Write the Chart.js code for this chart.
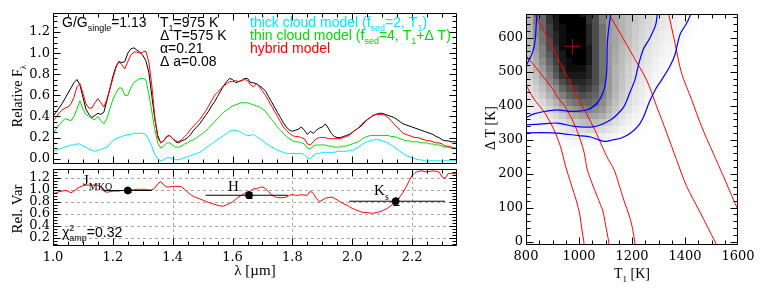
<!DOCTYPE html>
<html><head><meta charset="utf-8">
<script src="https://cdn.jsdelivr.net/npm/chart.js@4.4.1/dist/chart.umd.min.js"></script>
<style>
html,body{margin:0;padding:0;background:#fff;}
body{width:761px;height:289px;position:relative;overflow:hidden}
canvas{position:absolute;display:block}
</style></head><body>
<canvas id="cTop" width="470" height="166" style="left:0;top:0;width:470px;height:166px"></canvas>
<canvas id="cBot" width="470" height="125" style="left:0;top:164px;width:470px;height:125px"></canvas>
<canvas id="cMap" width="291" height="289" style="left:470px;top:0;width:291px;height:289px"></canvas>
<script>
// ---------------- DATA ----------------
const lam = [1.00,1.01,1.02,1.03,1.04,1.05,1.06,1.07,1.08,1.09,1.10,1.11,1.12,1.13,1.14,1.15,1.16,1.17,1.18,1.19,
1.20,1.21,1.22,1.23,1.24,1.25,1.26,1.27,1.28,1.29,1.30,1.31,1.32,1.33,1.34,1.35,1.36,1.37,1.38,1.39,
1.40,1.41,1.42,1.43,1.44,1.45,1.46,1.47,1.48,1.49,1.50,1.51,1.52,1.53,1.54,1.55,1.56,1.57,1.58,1.59,
1.60,1.61,1.62,1.63,1.64,1.65,1.66,1.67,1.68,1.69,1.70,1.71,1.72,1.73,1.74,1.75,1.76,1.77,1.78,1.79,
1.80,1.81,1.82,1.83,1.84,1.85,1.86,1.87,1.88,1.89,1.90,1.91,1.92,1.93,1.94,1.95,1.96,1.97,1.98,1.99,
2.00,2.01,2.02,2.03,2.04,2.05,2.06,2.07,2.08,2.09,2.10,2.11,2.12,2.13,2.14,2.15,2.16,2.17,2.18,2.19,
2.20,2.21,2.22,2.23,2.24,2.25,2.26,2.27,2.28,2.29,2.30,2.31,2.32,2.33,2.34,2.35];

const observed = [.40,.44,.48,.52,.57,.62,.67,.72,.75,.70, .58,.47,.42,.39,.41,.43,.42,.44,.55,.66,
.78,.87,.92,.91,.92,1.00,1.04,1.05,1.03,1.01, .98,.93,.82,.60,.38,.22,.15,.17,.21,.22,
.19,.16,.15,.17,.18,.20,.23,.27,.30,.33, .37,.41,.45,.50,.54,.59,.64,.69,.73,.76,
.75,.72,.73,.74,.76,.76,.72,.72,.71,.69, .67,.64,.59,.54,.49,.44,.39,.34,.30,.27,
.26,.27,.28,.30,.27,.23,.26,.24,.27,.29, .30,.33,.29,.24,.21,.20,.20,.21,.22,.23,
.25,.27,.29,.31,.34,.37,.39,.41,.42,.43, .43,.42,.41,.40,.39,.37,.35,.33,.32,.31,
.30,.29,.28,.27,.26,.25,.24,.23,.21,.20, .18,.17,.17,.16,.16,.16];

const hybrid = [.36,.39,.43,.46,.48,.49,.52,.58,.68,.71, .62,.52,.48,.48,.53,.57,.53,.49,.56,.66,
.76,.86,.92,.89,.85,.92,.98,1.01,1.01,1.00, 1.01,1.02,.92,.70,.40,.20,.15,.17,.21,.22,
.19,.17,.16,.18,.21,.24,.28,.31,.34,.37, .41,.45,.50,.55,.60,.63,.66,.69,.71,.73,
.73,.74,.73,.74,.75,.74,.70,.68,.71,.68, .64,.60,.55,.50,.45,.40,.35,.30,.27,.24,
.22,.21,.21,.20,.19,.14,.13,.16,.19,.20, .20,.20,.19,.19,.19,.19,.19,.20,.21,.22,
.25,.27,.29,.32,.35,.37,.39,.41,.42,.42, .42,.41,.39,.36,.33,.30,.27,.24,.23,.22,
.21,.20,.20,.19,.18,.17,.17,.16,.15,.15, .14,.12,.12,.11,.10,.10];

const thinCloud = [.24,.28,.32,.35,.38,.37,.36,.40,.47,.55, .47,.42,.40,.38,.37,.40,.36,.33,.38,.47,
.56,.62,.67,.67,.60,.60,.67,.72,.74,.76, .76,.75,.62,.45,.28,.15,.10,.12,.15,.15,
.13,.11,.11,.12,.14,.15,.17,.18,.20,.22, .24,.26,.29,.32,.35,.38,.41,.44,.46,.48,
.50,.51,.52,.53,.53,.53,.52,.51,.50,.49, .47,.45,.41,.37,.34,.30,.27,.24,.21,.19,
.17,.16,.16,.15,.14,.10,.09,.12,.13,.13, .13,.13,.12,.12,.11,.11,.11,.12,.12,.13,
.14,.15,.16,.18,.20,.21,.22,.22,.22,.22, .22,.22,.22,.21,.21,.20,.19,.18,.17,.17,
.16,.16,.16,.15,.15,.15,.14,.14,.13,.13, .12,.11,.11,.10,.10,.10];

const thickCloud = [.07,.08,.09,.10,.11,.12,.13,.13,.14,.14, .12,.11,.09,.08,.07,.08,.09,.10,.11,.14,
.17,.19,.20,.21,.22,.23,.23,.24,.24,.24, .24,.23,.18,.12,.04,.00,-.02,-.01,.01,.01,
.00,-.01,-.01,.00,.01,.02,.03,.04,.05,.06, .08,.10,.12,.14,.16,.18,.20,.22,.24,.26,
.27,.27,.26,.25,.23,.22,.22,.23,.21,.19, .17,.15,.13,.11,.10,.08,.07,.06,.05,.05,
.05,.05,.05,.05,.04,.01,.00,.03,.05,.05, .06,.06,.06,.06,.06,.07,.07,.07,.07,.08,
.08,.09,.11,.13,.15,.16,.17,.18,.18,.18, .17,.16,.15,.13,.11,.09,.07,.05,.03,.02,
.01,.00,-.01,-.01,-.02,-.02,-.02,-.02,-.02,-.02, -.02,-.02,-.02,-.02,-.02,-.02];

const relVar = [.94,.95,.97,.98,.99,.98,.95,.98,1.02,1.05, 1.07,1.08,1.08,1.08,1.08,1.08,1.04,.98,.96,.97,
.98,.98,.98,.99,.99,.99,1.00,1.00,1.01,1.01, 1.01,1.01,1.00,1.00,1.03,1.10,1.14,1.08,1.05,1.05,
1.06,1.06,1.06,1.05,1.01,.96,.92,.89,.87,.85, .83,.81,.79,.77,.76,.74,.73,.73,.75,.77,
.80,.84,.88,.91,.94,.97,.98,1.02,1.02,1.04, 1.05,1.02,.97,.92,.89,.87,.87,.87,.88,.91,
.92,.91,.91,.92,.91,.91,.98,.94,.86,.80, .83,.86,.87,.88,.86,.83,.80,.77,.75,.72,
.69,.67,.65,.63,.62,.62,.61,.61,.62,.63, .65,.67,.70,.74,.78,.83,.89,.96,1.05,1.15,
1.24,1.29,1.31,1.32,1.31,1.30,1.31,1.32,1.31,1.30, 1.22,1.19,1.27,1.28,1.27,1.27];

// photometric bands
const bandNames = ['J','H','K'];
const bandCenter = [1.25, 1.655, 2.145];
const bandLo = [1.17, 1.51, 1.99];
const bandHi = [1.33, 1.785, 2.31];
const bandVal = [0.99, 0.91, 0.81];
const bandErr = [0.02, 0.05, 0.06];

// tick labels
const specXTicks = [1.0,1.2,1.4,1.6,1.8,2.0,2.2];
const specYTicks = [0.0,0.2,0.4,0.6,0.8,1.0,1.2];
const varYTicks = [0.2,0.4,0.6,0.8,1.0,1.2];
const varGridX = [1.4,1.8,2.2];
const mapXTicks = [800,1000,1200,1400,1600];
const mapYTicks = [0,100,200,300,400,500,600];

// chi^2 map (grey level 0..10), columns T1, rows Delta T (cell = 25 K x 20 K)
const heatT1 = [800,825,850,875,900,925,950,975,1000,1025,1050,1075,1100,1125,1150,1175,1200,1225,1250,1275,1300,1325,1350,1375,1400,1425];
const heatDT = [660,640,620,600,580,560,540,520,500,480,460,440,420,400,380,360,340,320,300,280];
const heatZ = [
[3,5,6,8,9,10,10,10,9,8,7,5,4,3.5,3,2.5,2.2,1.8,1.5,1.2,1,0.8,0.6,0.4,0.3,0.2],
[3,5,6,8,9,10,10,10,10,8,7,5,4,3.5,3,2.5,2.2,1.8,1.5,1.2,1,0.8,0.6,0.4,0.3,0.2],
[3,4.5,6,7.5,9,9.5,10,10,10,8.5,7,5.5,4,3.5,3,2.5,2,1.7,1.4,1.1,0.9,0.7,0.5,0.3,0.2,0.1],
[2.8,4.5,5.5,7.5,8.5,9.5,10,10,10,8.5,7,5.5,4,3.5,3,2.5,2,1.6,1.3,1,0.8,0.6,0.4,0.3,0.1,0],
[2.7,4,5.5,7,8.5,9.5,10,10,10,8.5,7,5.5,4,3.5,3,2.4,1.9,1.5,1.2,0.9,0.7,0.5,0.3,0.2,0.1,0],
[2.6,4,5,7,8,9.5,10,10,10,9,7,5.5,4,3.5,2.8,2.3,1.8,1.4,1.1,0.8,0.6,0.4,0.2,0.1,0,0],
[2.5,3.5,5,6.5,8,9,10,10,10,9,7,5.5,4,3.3,2.7,2.2,1.7,1.3,1,0.7,0.5,0.3,0.2,0.1,0,0],
[2.3,3.3,4.5,6,7.5,9,9.5,10,10,9,7,5.5,4,3.2,2.6,2,1.6,1.2,0.9,0.6,0.4,0.2,0.1,0,0,0],
[2,3,4,5.5,7,8.5,9.5,9.5,9.5,8.5,7,5.5,4,3,2.5,1.9,1.5,1.1,0.8,0.5,0.3,0.2,0.1,0,0,0],
[1.8,2.5,3.5,5,6.5,8,9,9,9,8.5,7,5.5,4,3,2.4,1.8,1.3,1,0.7,0.4,0.2,0.1,0,0,0,0],
[1.5,2.2,3,4.5,5.5,7,8,8.5,8.5,8,7,5.5,4,3,2.3,1.7,1.2,0.9,0.6,0.3,0.2,0.1,0,0,0,0],
[1.3,1.8,2.5,3.5,4.5,6,7,7.5,8,7.5,6.5,5,4,3,2.2,1.6,1.1,0.8,0.5,0.3,0.1,0,0,0,0,0],
[1,1.5,2,3,4,5,6,6.5,7,6.5,6,5,3.8,2.8,2,1.5,1,0.7,0.4,0.2,0.1,0,0,0,0,0],
[0.8,1,1.5,2.2,3,4,5,5.5,6,6,5.5,4.5,3.5,2.5,1.8,1.3,0.9,0.6,0.3,0.2,0,0,0,0,0,0],
[0.6,0.8,1.1,1.6,2.2,3,3.8,4.3,4.8,5,4.5,4,3,2.2,1.5,1.1,0.7,0.4,0.2,0.1,0,0,0,0,0,0],
[0.4,0.6,0.8,1.1,1.5,2,2.7,3.2,3.6,3.8,3.6,3.2,2.5,1.8,1.2,0.8,0.5,0.3,0.1,0,0,0,0,0,0,0],
[0.3,0.4,0.5,0.7,1,1.3,1.8,2.2,2.5,2.7,2.6,2.3,1.8,1.3,0.9,0.6,0.3,0.2,0.1,0,0,0,0,0,0,0],
[0.2,0.2,0.3,0.4,0.6,0.8,1.1,1.3,1.5,1.6,1.6,1.4,1.1,0.8,0.5,0.3,0.2,0.1,0,0,0,0,0,0,0,0],
[0.1,0.1,0.2,0.2,0.3,0.4,0.5,0.6,0.7,0.8,0.8,0.7,0.5,0.4,0.2,0.1,0.1,0,0,0,0,0,0,0,0,0],
[0,0,0.1,0.1,0.1,0.2,0.2,0.3,0.3,0.3,0.3,0.3,0.2,0.1,0.1,0,0,0,0,0,0,0,0,0,0,0]];

// best fit
const bestT1 = [975];
const bestDT = [575];

// confidence contours (T1, Delta T)
const contourInnerA_T1 = [842,838,834,826,815,800,790];
const contourInnerA_DT = [680,630,590,560,540,518,505];
const contourInnerB_T1 = [790,800,830,868,917,950,981,1031,1069,1094,1104,1107,1113,1122];
const contourInnerB_DT = [362,365,376,383,388,385,383,388,408,447,496,584,633,680];
const contourMid_T1 = [790,805,853,918,981,1053,1082,1120,1145,1170,1190,1211,1223,1242,1268,1290,1296];
const contourMid_DT = [342,344,346,349,339,338,344,359,375,398,435,476,515,565,600,640,680];
const contourOut_T1 = [790,805,900,1000,1044,1094,1125,1160,1195,1225,1245,1265,1290,1312,1343,1362,1381,1407,1428];
const contourOut_DT = [318,320,320,312,308,295,299,305,320,342,370,410,450,476,516,550,609,644,680];

// model-relation curves (T1, Delta T)
const relA_T1 = [826,830,888,943,1000,1057,1079,1105,1132,1150,1170,1190,1203,1210,1213];
const relA_DT = [680,673,590,504,418,333,295,250,212,170,120,75,35,0,-15];
const relB_T1 = [1100,1111,1155,1205,1255,1293,1331,1368,1406,1457,1513,1520];
const relB_DT = [690,673,614,545,476,398,320,241,163,86,0,-12];
const relC_T1 = [1330,1337,1362,1387,1425,1462,1506,1545,1583,1610];
const relC_DT = [690,673,585,496,418,340,261,192,123,75];
const relD_T1 = [795,800,850,900,925,945,980,1005,1020,1031,1050,1070,1090,1100,1112,1114];
const relD_DT = [553,548,500,450,418,400,350,300,260,212,170,130,90,50,0,-15];
const relE_T1 = [795,800,830,870,905,930,950,970,990,1003,1010,1018,1020];
const relE_DT = [465,460,420,380,330,280,220,170,120,80,40,0,-15];

// ---------------- helpers ----------------
const SERIF = '"Liberation Serif", "Times New Roman", serif';
const DSERIF = '"DejaVu Serif", serif';
const SANS = '"Liberation Sans", Arial, sans-serif';
const COL = {black:'#000000', red:'#ff0000', green:'#00dd00', cyan:'#00e8ff', blue:'#0000ff', dark:'#b00000'};

function pts(xs, ys){ return xs.map((x,i)=>({x:x, y:ys[i]})); }
function seq(a,b,s){ const r=[]; for(let v=a; v<=b+1e-9; v+=s) r.push(+v.toFixed(6)); return r; }

// parts: [text, mode(0 normal,1 sub,2 sup), noAdvance]
function rich(ctx, x, y, parts, size, fam, color, align, rot){
  ctx.save();
  ctx.translate(x, y);
  if (rot) ctx.rotate(rot);
  const sub = Math.round(size*0.66);
  let w = 0;
  const segs = parts.map(p => {
    const s = p[1] ? sub : size;
    ctx.font = s + 'px ' + fam;
    const mw = ctx.measureText(p[0]).width;
    if (!p[2]) w += mw;
    return {t:p[0], m:p[1]||0, s:s, w:mw, na:!!p[2]};
  });
  let cx = align === 'center' ? -w/2 : (align === 'right' ? -w : 0);
  ctx.fillStyle = color; ctx.textAlign = 'left'; ctx.textBaseline = 'alphabetic';
  const base = size*0.36;
  for (const s of segs){
    ctx.font = s.s + 'px ' + fam;
    const dy = s.m === 1 ? size*0.30 : (s.m === 2 ? -size*0.42 : 0);
    ctx.fillText(s.t, cx, base + dy);
    if (!s.na) cx += s.w;
  }
  ctx.restore();
}

// frame + inward ticks
const frameTicks = {
  id:'frameTicks',
  afterDraw(chart, args, o){
    const ctx = chart.ctx, a = chart.chartArea;
    ctx.save();
    ctx.strokeStyle = '#000'; ctx.lineWidth = 1;
    ctx.beginPath();
    const L = Math.round(a.left)+0.5, R = Math.round(a.right)-0.5, T = Math.round(a.top)+0.5, B = Math.round(a.bottom)-0.5;
    ctx.rect(L, T, R-L, B-T);
    ctx.stroke();
    const xs = chart.scales.x, ys = chart.scales.y;
    const drawX = (vals, len) => { vals.forEach(v => { const p = Math.round(xs.getPixelForValue(v))+0.5; if (p < L-0.1 || p > R+0.1) return;
      ctx.beginPath(); ctx.moveTo(p, B); ctx.lineTo(p, B-len); ctx.moveTo(p, T); ctx.lineTo(p, T+len); ctx.stroke(); }); };
    const drawY = (vals, len) => { vals.forEach(v => { const p = Math.round(ys.getPixelForValue(v))+0.5; if (p < T-0.1 || p > B+0.1) return;
      ctx.beginPath(); ctx.moveTo(L, p); ctx.lineTo(L+len, p); ctx.moveTo(R, p); ctx.lineTo(R-len, p); ctx.stroke(); }); };
    drawX(o.xMinor, o.minorLen); drawX(o.xMajor, o.majorLen);
    drawY(o.yMinor, o.minorLen); drawY(o.yMajor, o.majorLen);
    ctx.restore();
  }
};

const texts = {
  id:'texts',
  afterDraw(chart, args, o){ if (o.draw) o.draw(chart.ctx, chart.chartArea, chart.scales); }
};

function yAxis(min, max, ticksArr, width, dec, fontSize){
  return { type:'linear', min:min, max:max,
    afterFit(s){ s.width = width; s.paddingTop = 0; s.paddingBottom = 0; },
    afterBuildTicks(s){ s.ticks = ticksArr.map(v=>({value:v})); },
    ticks:{ callback:(v)=> dec===null ? String(v) : Number(v).toFixed(dec), color:'#000', padding:3, autoSkip:false, font:{family:DSERIF, size:fontSize} },
    grid:{ display:false, drawTicks:false }, border:{ display:false } };
}
function xAxis(min, max, ticksArr, height, dec, show){
  return { type:'linear', min:min, max:max, display: show,
    afterFit(s){ s.height = height; s.paddingLeft = 0; s.paddingRight = 0; },
    afterBuildTicks(s){ s.ticks = ticksArr.map(v=>({value:v})); },
    ticks:{ callback:(v)=> dec===null ? String(v) : Number(v).toFixed(dec), color:'#000', padding:4, maxRotation:0, autoSkip:false, font:{family:DSERIF, size:13} },
    grid:{ display:false, drawTicks:false }, border:{ display:false } };
}
const lineDs = (label, data, color, w) => ({ label, data, borderColor:color, backgroundColor:color, borderWidth:w||1, pointRadius:0, tension:0, fill:false });

Chart.defaults.animation = false;
Chart.defaults.devicePixelRatio = 1;

// ---------------- top spectrum ----------------
new Chart(document.getElementById('cTop'), {
  type:'line',
  data:{ datasets:[
    lineDs('hybrid model', pts(lam, hybrid), COL.red),
    lineDs('observed', pts(lam, observed), COL.black),
    lineDs('thin cloud model', pts(lam, thinCloud), COL.green),
    lineDs('thick cloud model', pts(lam, thickCloud), COL.cyan)
  ]},
  options:{ responsive:false, animation:false, events:[],
    layout:{ padding:{ left:0, right:13, top:13, bottom:2 } },
    scales:{ x: xAxis(1.0, 2.35, specXTicks, 0, 1, false), y: yAxis(-0.05, 1.38, specYTicks, 53, 1, 13) },
    plugins:{ legend:{display:false}, tooltip:{enabled:false},
      frameTicks:{ xMajor:specXTicks, xMinor:seq(1.0,2.35,0.05), yMajor:specYTicks, yMinor:seq(0,1.35,0.05), majorLen:7, minorLen:4 },
      texts:{ draw(ctx, a){
        const x0 = a.left;
        rich(ctx, 17, 96, [['Relative F',0],['λ',1]], 14, SERIF, '#000', 'center', -Math.PI/2);
        rich(ctx, x0+9, 21.5, [['G/G',0],['single',1],['=1.13',0]], 14, SANS, '#000', 'left');
        rich(ctx, x0+107, 21.5, [['T',0],['1',1],['=975 K',0]], 14, SANS, '#000', 'left');
        rich(ctx, x0+107, 34.5, [['Δ T=575 K',0]], 14, SANS, '#000', 'left');
        rich(ctx, x0+107, 47.5, [['α=0.21',0]], 14, SANS, '#000', 'left');
        rich(ctx, x0+107, 61, [['Δ a=0.08',0]], 14, SANS, '#000', 'left');
        rich(ctx, x0+197, 21.5, [['thick cloud model (f',0],['sed',1],['=2, T',0],['1',1],[')',0]], 14, SANS, COL.cyan, 'left');
        rich(ctx, x0+197, 34.5, [['thin cloud model (f',0],['sed',1],['=4, T',0],['1',1],['+Δ T)',0]], 14, SANS, COL.green, 'left');
        rich(ctx, x0+197, 47.5, [['hybrid model',0]], 14, SANS, COL.red, 'left');
      } }
    } },
  plugins:[frameTicks, texts]
});

// ---------------- bottom relative variability ----------------
const gridPlugin = {
  id:'dashGrid',
  beforeDatasetsDraw(chart, args, o){
    const ctx = chart.ctx, a = chart.chartArea, xs = chart.scales.x, ys = chart.scales.y;
    ctx.save(); ctx.strokeStyle = '#a8a8a8'; ctx.lineWidth = 1; ctx.setLineDash([3,3]);
    o.x.forEach(v => { const p = Math.round(xs.getPixelForValue(v))+0.5; ctx.beginPath(); ctx.moveTo(p, a.top); ctx.lineTo(p, a.bottom); ctx.stroke(); });
    o.y.forEach(v => { const p = Math.round(ys.getPixelForValue(v))+0.5; ctx.beginPath(); ctx.moveTo(a.left, p); ctx.lineTo(a.right, p); ctx.stroke(); });
    ctx.restore();
  }
};
const errPlugin = {
  id:'errBars',
  afterDatasetsDraw(chart){
    const ctx = chart.ctx, xs = chart.scales.x, ys = chart.scales.y;
    ctx.save(); ctx.strokeStyle = '#000'; ctx.lineWidth = 1;
    bandCenter.forEach((c,i) => {
      const x = Math.round(xs.getPixelForValue(c))+0.5;
      const y1 = ys.getPixelForValue(bandVal[i]-bandErr[i]), y2 = ys.getPixelForValue(bandVal[i]+bandErr[i]);
      ctx.beginPath(); ctx.moveTo(x, y1); ctx.lineTo(x, y2);
      ctx.moveTo(x-3, Math.round(y1)+0.5); ctx.lineTo(x+3, Math.round(y1)+0.5);
      ctx.moveTo(x-3, Math.round(y2)+0.5); ctx.lineTo(x+3, Math.round(y2)+0.5);
      ctx.stroke();
    });
    ctx.restore();
  }
};
const bandLineSets = bandCenter.map((c,i) => lineDs('band '+bandNames[i], [{x:bandLo[i], y:bandVal[i]}, {x:bandHi[i], y:bandVal[i]}], COL.black));
new Chart(document.getElementById('cBot'), {
  type:'line',
  data:{ datasets:[
    { label:'photometry', data: pts(bandCenter, bandVal), showLine:false, pointRadius:3.5, pointBackgroundColor:'#000', pointBorderColor:'#000', borderColor:'#000' },
    ...bandLineSets,
    lineDs('relative variability', pts(lam, relVar), COL.red)
  ]},
  options:{ responsive:false, animation:false, events:[],
    layout:{ padding:{ left:0, right:13, top:0, bottom:0 } },
    scales:{ x: xAxis(1.0, 2.35, specXTicks, 43, 1, true), y: yAxis(0.06, 1.35, varYTicks, 53, 1, 13) },
    plugins:{ legend:{display:false}, tooltip:{enabled:false},
      dashGrid:{ x:varGridX, y:varYTicks },
      frameTicks:{ xMajor:specXTicks, xMinor:seq(1.0,2.35,0.05), yMajor:varYTicks, yMinor:seq(0.1,1.35,0.05), majorLen:7, minorLen:4 },
      texts:{ draw(ctx, a, s){
        rich(ctx, 17, 45, [['Rel. Var',0]], 15, SERIF, '#000', 'center', -Math.PI/2);
        rich(ctx, (a.left+a.right)/2, 106, [['λ [µm]',0]], 15, SERIF, '#000', 'center');
        rich(ctx, s.x.getPixelForValue(1.10), s.y.getPixelForValue(1.17), [['J',0],['MKO',1]], 15, SERIF, '#000', 'left');
        rich(ctx, s.x.getPixelForValue(1.603), s.y.getPixelForValue(1.08), [['H',0]], 15, SERIF, '#000', 'center');
        rich(ctx, s.x.getPixelForValue(2.073), s.y.getPixelForValue(1.00), [['K',0],['s',1]], 15, SERIF, '#000', 'left');
        rich(ctx, a.left+9, 68, [['χ',0],['2',2,true],['amp',1],['=0.32',0]], 14, SANS, '#000', 'left');
      } }
    } },
  plugins:[gridPlugin, errPlugin, frameTicks, texts]
});

// ---------------- right chi2 map ----------------
const heatPlugin = {
  id:'heat',
  beforeDatasetsDraw(chart){
    const ctx = chart.ctx, a = chart.chartArea, xs = chart.scales.x, ys = chart.scales.y;
    ctx.save();
    ctx.beginPath(); ctx.rect(a.left, a.top, a.right-a.left, a.bottom-a.top); ctx.clip();
    heatDT.forEach((dt, r) => {
      heatT1.forEach((t, c) => {
        const v = heatZ[r][c]; if (!v) return;
        const g = Math.round(255*(1 - v/10));
        const x0 = Math.round(xs.getPixelForValue(t)), x1 = Math.round(xs.getPixelForValue(t+25));
        const y0 = Math.round(ys.getPixelForValue(dt+20)), y1 = Math.round(ys.getPixelForValue(dt));
        ctx.fillStyle = 'rgb('+g+','+g+','+g+')';
        ctx.fillRect(x0, y0, x1-x0, y1-y0);
      });
    });
    ctx.restore();
  }
};
const blue = (l, xs, ys) => ({ ...lineDs(l, pts(xs, ys), COL.blue, 1.2), tension:0.3 });
const redl = (l, xs, ys) => ({ ...lineDs(l, pts(xs, ys), COL.red, 1), tension:0.3 });
new Chart(document.getElementById('cMap'), {
  type:'line',
  data:{ datasets:[
    { label:'best fit', data: pts(bestT1, bestDT), showLine:false, pointStyle:'cross', pointRadius:8, pointBorderWidth:1, pointBorderColor:COL.dark, borderColor:COL.dark },
    blue('c1a', contourInnerA_T1, contourInnerA_DT),
    blue('c1b', contourInnerB_T1, contourInnerB_DT),
    blue('c2', contourMid_T1, contourMid_DT),
    blue('c3', contourOut_T1, contourOut_DT),
    redl('A', relA_T1, relA_DT), redl('B', relB_T1, relB_DT), redl('C', relC_T1, relC_DT),
    redl('D', relD_T1, relD_DT), redl('E', relE_T1, relE_DT)
  ]},
  options:{ responsive:false, animation:false, events:[],
    layout:{ padding:{ left:0, right:23, top:14, bottom:0 } },
    scales:{ x: xAxis(800, 1600, mapXTicks, 44, null, true), y: yAxis(-10, 670, mapYTicks, 56, null, 13) },
    plugins:{ legend:{display:false}, tooltip:{enabled:false},
      frameTicks:{ xMajor:mapXTicks, xMinor:seq(800,1600,50), yMajor:mapYTicks, yMinor:seq(0,660,20), majorLen:7, minorLen:4 },
      texts:{ draw(ctx, a){
        rich(ctx, 20, 128, [['Δ T [K]',0]], 14, SERIF, '#000', 'center', -Math.PI/2);
        rich(ctx, (a.left+a.right)/2, 273, [['T',0],['1',1],[' [K]',0]], 14, SERIF, '#000', 'center');
      } }
    } },
  plugins:[heatPlugin, frameTicks, texts]
});
</script></body></html>
